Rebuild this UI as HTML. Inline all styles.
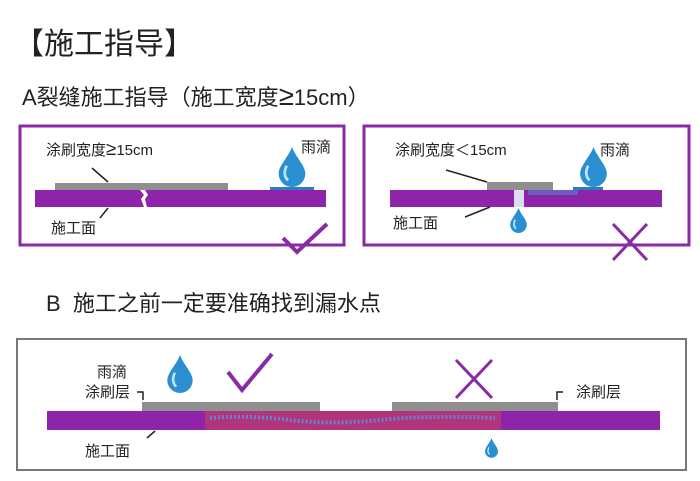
<!DOCTYPE html><html><head><meta charset="utf-8"><style>
body{margin:0;width:700px;height:481px;background:#fff;position:relative;overflow:hidden;font-family:"Liberation Sans","Noto Sans CJK SC",sans-serif;color:#222}
.a{position:absolute;white-space:nowrap}
.g{font-size:1.25em;line-height:0.8}
</style></head><body>
<div class="a" style="left:14px;top:19px;font-size:30px">【施工指导】</div>
<div class="a" style="left:22px;top:80px;font-size:22px">A裂缝施工指导（施工宽度<span class="g">≥</span>15cm）</div>
<div class="a" style="left:46px;top:286px;font-size:22px">B &nbsp;施工之前一定要准确找到漏水点</div>
<svg class="a" style="left:0;top:0" width="700" height="481">
<defs>
<symbol id="drop" viewBox="0 0 20 30"><path d="M10 0 C13 8 20 14 20 20 A10 10 0 0 1 0 20 C0 14 7 8 10 0Z" fill="#2a8fd0"/><path d="M6 14 C4 18 4 22 7 25" stroke="#bfe6fa" stroke-width="2" fill="none"/></symbol></defs>
<g fill="none" stroke="#8a2ba6" stroke-width="3">
<rect x="20" y="126" width="324" height="119"/>
<rect x="364" y="126" width="325" height="119"/>
</g>
<rect x="17" y="339" width="669" height="131" fill="none" stroke="#777" stroke-width="2"/>
<rect x="55" y="183" width="173" height="8" fill="#8f8f8f"/>
<rect x="35" y="190" width="291" height="17" fill="#8e24aa"/>
<path d="M140 190 l4 5 -3 4 3 8 h3 l-2 -8 3 -4 -3 -5z" fill="#fff"/>
<rect x="270" y="187" width="44" height="3" fill="#2a7fb8"/>
<use href="#drop" x="278" y="147" width="28" height="40"/>
<line x1="92" y1="168" x2="108" y2="182" stroke="#222" stroke-width="1.5"/>
<line x1="108" y1="208" x2="100" y2="218" stroke="#222" stroke-width="1.5"/>
<path d="M283 238 l14 14 l30 -28" stroke="#8a2ba6" stroke-width="4" fill="none"/>
<rect x="487" y="182" width="66" height="8" fill="#8f8f8f"/>
<rect x="390" y="190" width="272" height="17" fill="#8e24aa"/>
<rect x="528" y="190" width="50" height="5" fill="#6a5fc0"/>
<rect x="514" y="190" width="10" height="17" fill="#dde"/>
<rect x="573" y="187" width="30" height="3" fill="#2a7fb8"/>
<use href="#drop" x="580" y="147" width="27" height="40"/>
<use href="#drop" x="510" y="208" width="17" height="25"/>
<line x1="446" y1="170" x2="487" y2="182" stroke="#222" stroke-width="1.5"/>
<line x1="490" y1="207" x2="465" y2="217" stroke="#222" stroke-width="1.5"/>
<path d="M613 224 l34 36 M647 224 l-34 36" stroke="#8a2ba6" stroke-width="3"/>
<rect x="142" y="402" width="178" height="9" fill="#8f8f8f"/>
<rect x="392" y="402" width="166" height="9" fill="#8f8f8f"/>
<rect x="47" y="411" width="613" height="19" fill="#8e24aa"/>
<rect x="205" y="411" width="296" height="19" fill="#b0357a"/>
<path d="M210 418 q40 -3 80 2 t90 0 t115 -2" stroke="#6a7fd0" stroke-width="4" fill="none" stroke-dasharray="2 2"/>
<use href="#drop" x="166" y="355" width="28" height="38"/>
<use href="#drop" x="485" y="436" width="13" height="24"/>
<path d="M228 372 l14 18 l30 -36" stroke="#8a2ba6" stroke-width="4" fill="none"/>
<path d="M456 360 l36 38 M492 360 l-36 38" stroke="#8a2ba6" stroke-width="3"/>
<path d="M143 400 v-8 h-6" stroke="#222" stroke-width="1.5" fill="none"/>
<path d="M557 400 v-8 h6" stroke="#222" stroke-width="1.5" fill="none"/>
<line x1="155" y1="431" x2="147" y2="438" stroke="#222" stroke-width="1.5"/>
</svg>
<div class="a" style="left:46px;top:139px;font-size:15px">涂刷宽度<span class="g">≥</span>15cm</div>
<div class="a" style="left:301px;top:136px;font-size:15px">雨滴</div>
<div class="a" style="left:51px;top:217px;font-size:15px">施工面</div>
<div class="a" style="left:395px;top:139px;font-size:15px">涂刷宽度＜15cm</div>
<div class="a" style="left:600px;top:139px;font-size:15px">雨滴</div>
<div class="a" style="left:393px;top:212px;font-size:15px">施工面</div>
<div class="a" style="left:97px;top:361px;font-size:15px">雨滴</div>
<div class="a" style="left:85px;top:381px;font-size:15px">涂刷层</div>
<div class="a" style="left:85px;top:440px;font-size:15px">施工面</div>
<div class="a" style="left:576px;top:381px;font-size:15px">涂刷层</div>
</body></html>
